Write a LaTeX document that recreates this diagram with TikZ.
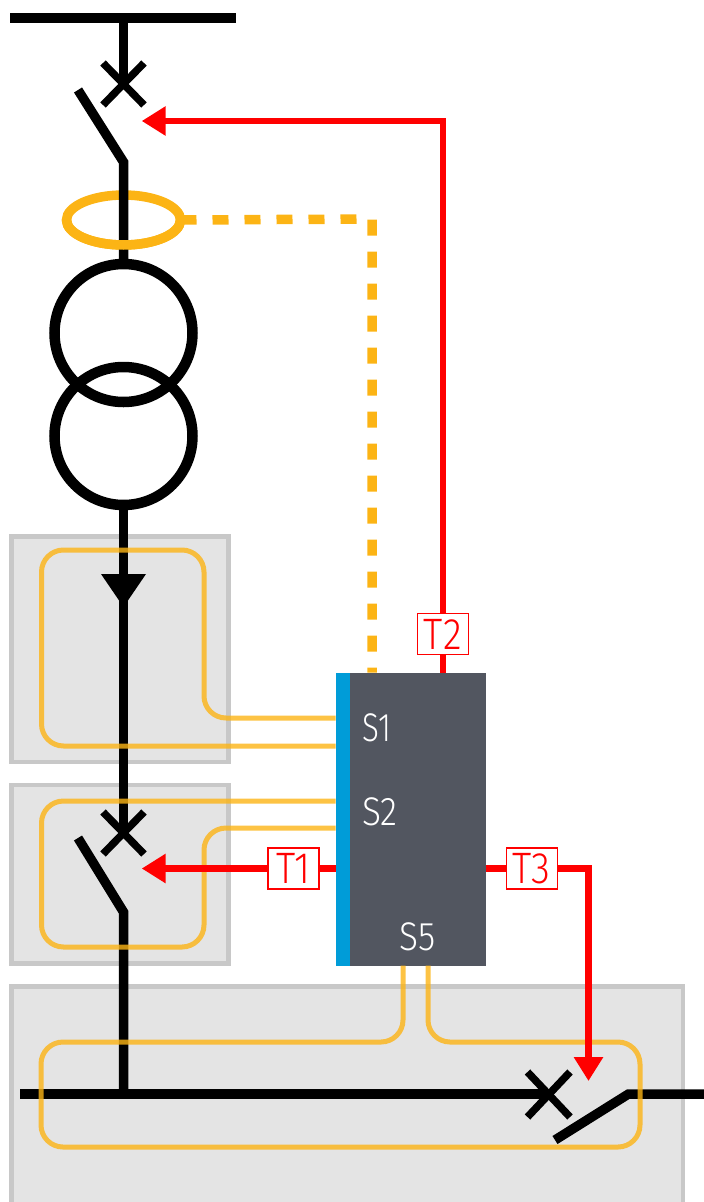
\documentclass[tikz,border=0pt]{standalone}
\usepackage{fontspec}
\setmainfont{Fira Sans}[UprightFont=* Light]
\usetikzlibrary{arrows.meta,shapes.geometric}
\definecolor{panelfill}{HTML}{E4E4E4}
\definecolor{panelline}{HTML}{C8C8C8}
\definecolor{ctcol}{HTML}{FCB415}
\definecolor{relaycol}{HTML}{525660}
\definecolor{stripcol}{HTML}{009CD8}
\tikzset{
    panel/.style={draw=panelline,fill=panelfill,line width=4.5pt},
    power/.style={line width=9.5pt},
    breaker/.style={line width=7.5pt},
    loopline/.style={draw=ctcol,draw opacity=.8,line width=5pt,rounded corners=22pt},
    tripline/.style={draw=red,line width=6.5pt},
    triptip/.style={-{Triangle[length=24pt,width=28pt]}},
    triplabel/.style={draw=red,fill=white,line width=1.5pt,text=red,minimum width=51pt,minimum height=41pt,inner sep=0pt,font=\fontsize{44}{44}\selectfont},
    sensorlabel/.style={text=white,inner sep=0pt,font=\fontsize{40}{40}\selectfont},
}
\newcommand{\narrow}[1]{\scalebox{.78}[1]{#1}}
\newcommand{\wider}[1]{\scalebox{.88}[1]{#1}}
\begin{document}
\begin{tikzpicture}[x=1pt,y=-1pt]
    \useasboundingbox (0,0) rectangle (704,1202);

    % panels
    \fill[panelline] (9,984) rectangle (685,1202);
    \fill[panelfill] (13.5,988.5) rectangle (681,1202);
    \draw[panel] (11.5,536.5) rectangle (228.5,762);
    \draw[panel] (11.5,785) rectangle (228.5,963.5);

    % current transformer, back half
    \node[draw=ctcol,line width=9.5pt,ellipse,minimum width=114pt,minimum height=50pt,inner sep=0pt,outer sep=0pt] (ct) at (123.5,220) {};

    % feeder
    \draw[line width=10.5pt] (10,18) -- (236,18);
    \coordinate (bustop) at (123.5,18);
    \coordinate (knee1) at (123.5,162);
    \coordinate (knee2) at (123.5,912);
    \coordinate (busbot) at (123.5,1094);
    \draw[power] (bustop) -- (123.5,84);
    \draw[power] (78,90) -- (knee1) -- (123.5,262);
    \draw[breaker] (103,63) -- (144,105);
    \draw[breaker] (144,63) -- (103,105);
    \draw[ctcol,line width=9.5pt] (ct.west) arc[start angle=180,end angle=360,x radius=57,y radius=-25];

    % power transformer
    \draw[line width=10.5pt] (123.5,333) circle [radius=69];
    \draw[line width=10.5pt] (123.5,436) circle [radius=69];
    \draw[power] (123.5,510) -- (123.5,830);
    \fill (101,574) -- (146,574) -- (123.5,607) -- cycle;
    \draw[breaker] (103,812) -- (144,854);
    \draw[breaker] (144,812) -- (103,854);
    \draw[power] (78,838) -- (knee2) -- (busbot);

    % lower bus
    \draw[line width=10.5pt] (20,1094) -- (549,1094);
    \draw[breaker] (527.5,1072) -- (570,1117);
    \draw[breaker] (570,1072) -- (527.5,1117);
    \draw[power] (555,1140) -- (628.5,1094) -- (704,1094);

    % relay
    \node[fill=relaycol,minimum width=150pt,minimum height=293pt,inner sep=0pt,outer sep=0pt] (relay) at (410.7,819.2) {};
    \fill[stripcol] (relay.north west) rectangle (350,965.7);
    \node[sensorlabel,anchor=west] (s1) at (362,728) {\narrow{S1}};
    \node[sensorlabel,anchor=west] (s2) at (362,812) {\wider{S2}};
    \node[sensorlabel,anchor=west] (s5) at (399.5,937) {\wider{S5}};

    % loops
    \draw[loopline] (relay.west |- 0,718) -- (204,718) -- (204,550) -- (41.5,550) -- (41.5,746) -- (relay.west |- 0,746);
    \draw[loopline] (relay.west |- 0,801) -- (41.5,801) -- (41.5,947) -- (204,947) -- (204,828) -- (relay.west |- 0,828);
    \draw[loopline] (403,965.7) -- (403,1042) -- (41,1042) -- (41,1147) -- (640,1147) -- (640,1042) -- (428,1042) -- (428,965.7);

    % current signal
    \draw[ctcol,line width=9.5pt,dash pattern=on 16pt off 16pt] (ct.east) -- (372,219) -- (372,672.7);

    % trip lines
    \coordinate (tip1) at (141.7,868.5);
    \coordinate (tip2) at (141.7,121);
    \coordinate (tip3) at (588.5,1081);
    \node[triplabel] (t1) at (293.3,868.5) {\wider{T1}};
    \node[triplabel] (t2) at (442.8,634.2) {\wider{T2}};
    \node[triplabel] (t3) at (531.8,868.5) {\wider{T3}};
    \draw[tripline] (relay.west |- t1) -- (t1.east);
    \draw[tripline,triptip] (t1.west) -- (tip1);
    \draw[tripline] (t2.south) -- (t2 |- relay.north);
    \draw[tripline,triptip] (t2.north) |- (tip2);
    \draw[tripline] (relay.east |- t3) -- (t3.west);
    \draw[tripline,triptip] (t3.east) -| (tip3);
\end{tikzpicture}
\end{document}
